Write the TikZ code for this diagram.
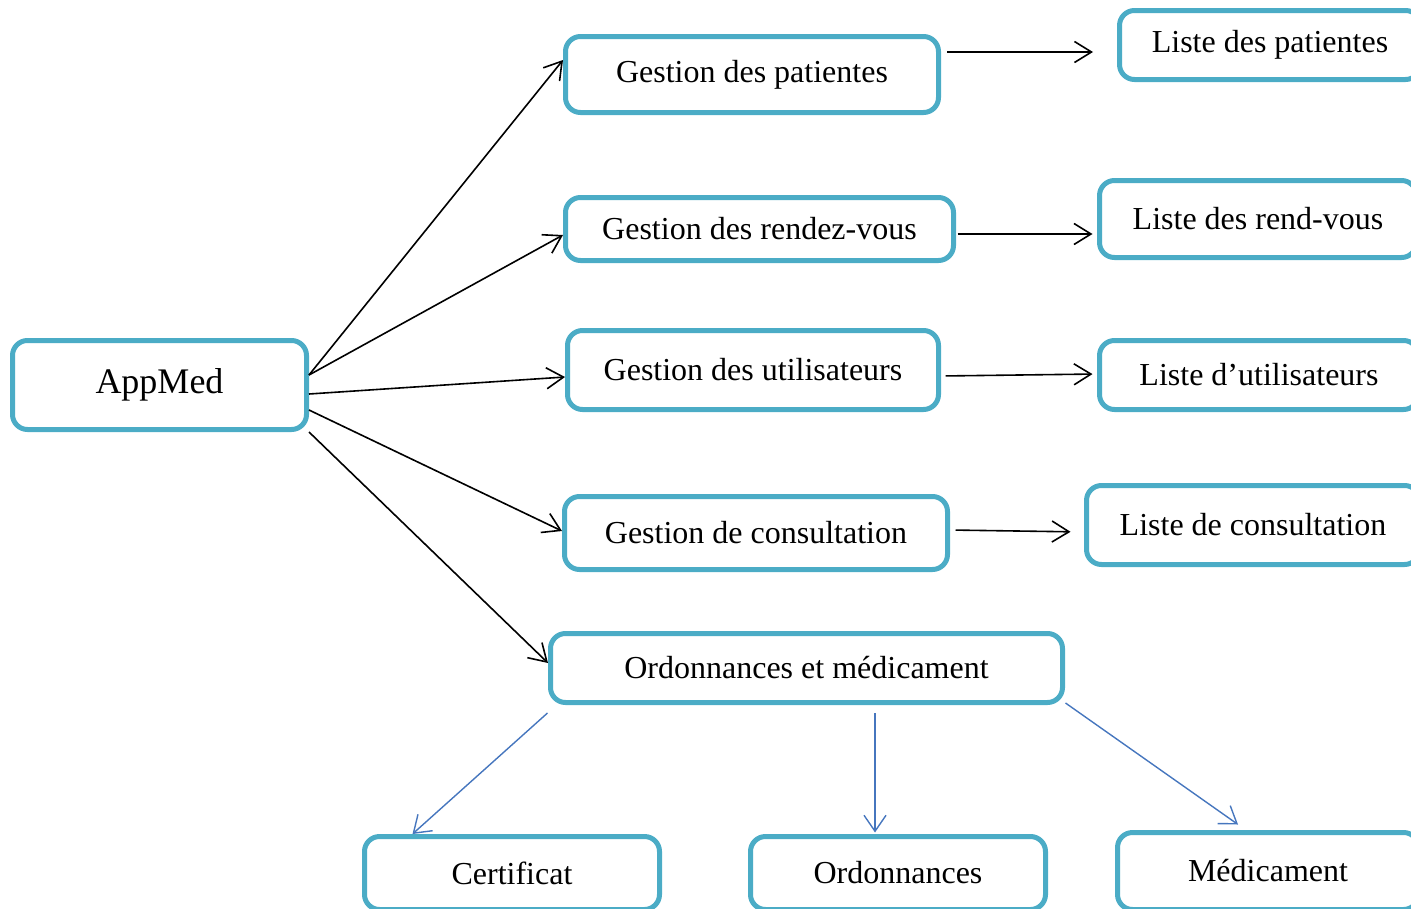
\documentclass[tikz,border=0pt]{standalone}
\usepackage{fontspec}
\setmainfont{Liberation Serif}
\usetikzlibrary{arrows.meta}
\definecolor{boxline}{RGB}{75,172,198}
\definecolor{subline}{RGB}{70,118,190}
\begin{document}
\begin{tikzpicture}[x=1pt,y=-1pt,
  box/.style={draw=boxline, line width=5pt, rounded corners=15pt, fill=white,
    inner sep=0pt, font=\fontsize{32}{36}\selectfont},
  link/.style={draw=black, line width=1.6pt,
    -{Straight Barb[length=17pt,width=21pt,line width=1.6pt]}},
  sublink/.style={draw=subline, line width=1.4pt,
    -{Straight Barb[length=16pt,width=22pt,line width=1.4pt]}}]
\useasboundingbox (0,0) rectangle (1411,908);
\begin{scope}
\clip (0,0) rectangle (1411,908);
% main node
\node[box, minimum width=294pt, minimum height=89pt, font=\fontsize{36}{40}\selectfont] (app) at (159.5,385) {AppMed};
% management modules
\node[box, minimum width=373pt, minimum height=76pt] (gp) at (752,74.5) {Gestion des patientes};
\node[box, minimum width=388pt, minimum height=63pt] (gr) at (759.5,229) {Gestion des rendez-vous};
\node[box, minimum width=371pt, minimum height=79pt] (gu) at (753,370) {Gestion des utilisateurs};
\node[box, minimum width=383pt, minimum height=73pt] (gc) at (756,533) {Gestion de consultation};
\node[box, minimum width=512pt, minimum height=69pt] (om) at (806.5,668) {Ordonnances et médicament};
% lists
\node[box, minimum width=301pt, minimum height=69pt] (lp) at (1270,45) {Liste des patientes};
\node[box, minimum width=317pt, minimum height=77pt] (lr) at (1258,219) {Liste des rend-vous};
\node[box, minimum width=319pt, minimum height=69pt] (lu) at (1259,375) {Liste d’utilisateurs};
\node[box, minimum width=333pt, minimum height=79pt] (lc) at (1253,525) {Liste de consultation};
% prescription items
\node[box, minimum width=295pt, minimum height=73pt] (ce) at (512,873) {Certificat};
\node[box, minimum width=295pt, minimum height=73pt] (or) at (898,873) {Ordonnances};
\node[box, minimum width=301pt, minimum height=77pt] (me) at (1268,871) {Médicament};
\end{scope}
% AppMed to the modules
\draw[link] ([yshift=10pt]app.east) -- ([yshift=14.5pt]gp.west);
\draw[link] ([yshift=10pt]app.east) -- ([yshift=-6pt]gr.west);
\draw[link] ([yshift=-9pt]app.east) -- ([yshift=-7pt]gu.west);
\draw[link] ([yshift=-25pt]app.east) -- ([yshift=2pt]gc.west);
\draw[link] (app.south east) -- ([yshift=5pt]om.west);
% modules to their lists
\draw[link, shorten <=6pt, shorten >=24pt] ([yshift=22.5pt]gp.east) -- ([yshift=-7pt]lp.west);
\draw[link, shorten <=1.5pt, shorten >=4.5pt] ([yshift=-5pt]gr.east) -- ([yshift=-15pt]lr.west);
\draw[link, shorten <=4.5pt, shorten >=4.5pt] ([yshift=-6pt]gu.east) -- ([yshift=1pt]lu.west);
\draw[link, shorten <=5.5pt, shorten >=13.5pt] ([yshift=3pt]gc.east) -- ([yshift=-7pt]lc.west);
% prescriptions to items
\draw[sublink] ([xshift=-0.5pt,yshift=-8pt]om.south west) -- ([xshift=50.5pt,yshift=0pt]ce.north west);
\draw[sublink] ([xshift=68.5pt,yshift=-8pt]om.south) -- ([xshift=-23pt,yshift=1.5pt]or.north);
\draw[sublink] ([xshift=0.5pt,yshift=2pt]om.south east) -- ([xshift=-30pt,yshift=5.5pt]me.north);
\end{tikzpicture}
\end{document}
